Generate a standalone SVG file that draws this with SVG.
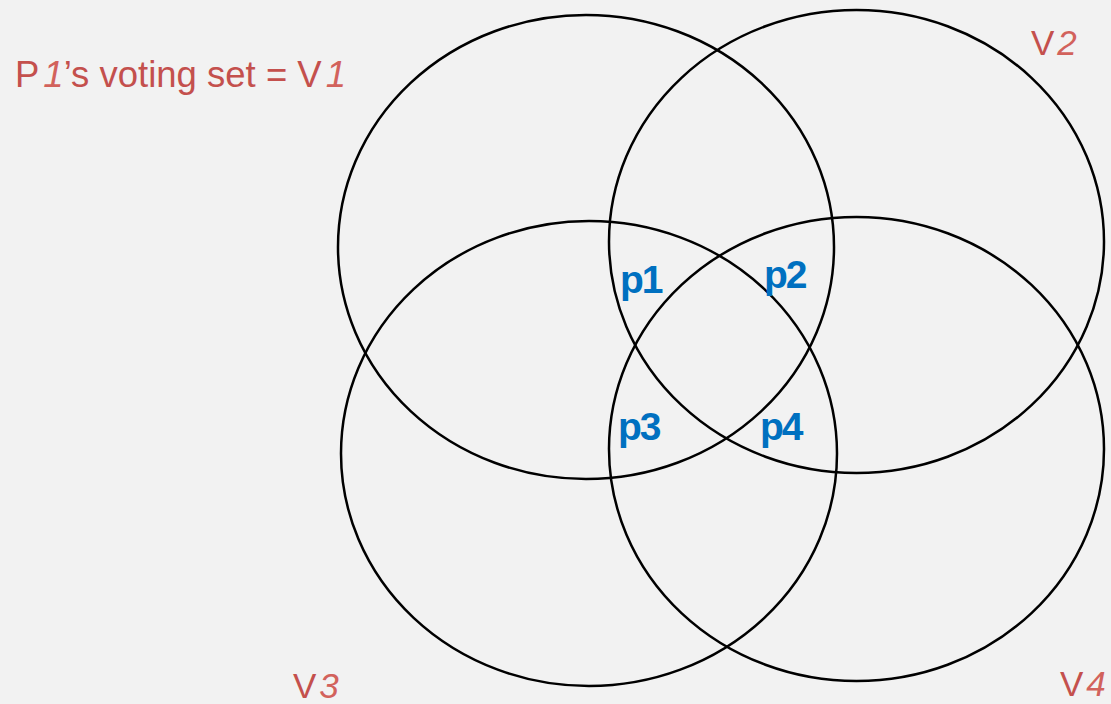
<svg xmlns="http://www.w3.org/2000/svg" width="1111" height="704" viewBox="0 0 1111 704">
<style>
.c{fill:none;stroke:#000;stroke-width:2.5}
.lab{font-family:"Liberation Sans",Arial,sans-serif;fill:#c4504d}
.it{font-style:italic;fill:#d2625c}
.p{font-family:"Liberation Sans",Arial,sans-serif;font-weight:bold;fill:#0070c0;font-size:39px}
</style>
<rect width="1111" height="704" fill="#f2f2f2"/>
<g id="connectors"></g>
<g id="V1"><ellipse class="c" cx="586" cy="247" rx="248" ry="232"/></g>
<g id="V2"><ellipse class="c" cx="856.5" cy="241.5" rx="247.5" ry="231.5"/></g>
<g id="V3"><ellipse class="c" cx="589" cy="453.5" rx="248" ry="232.5"/></g>
<g id="V4"><ellipse class="c" cx="856.5" cy="449" rx="247.5" ry="232"/></g>
<g id="title"><text class="lab" x="15" y="87" font-size="36.5">P<tspan class="it" dx="4">1</tspan>’s voting set = V<tspan class="it" dx="4">1</tspan></text></g>
<g id="labelV2"><text class="lab" x="1031" y="55" font-size="35">V<tspan class="it" dx="3">2</tspan></text></g>
<g id="labelV3"><text class="lab" x="293" y="698" font-size="35">V<tspan class="it" dx="3">3</tspan></text></g>
<g id="labelV4"><text class="lab" x="1060" y="696" font-size="35">V<tspan class="it" dx="3">4</tspan></text></g>
<g id="p1"><text class="p" x="620" y="293" letter-spacing="-2">p1</text></g>
<g id="p2"><text class="p" x="764" y="288" letter-spacing="-2">p2</text></g>
<g id="p3"><text class="p" x="618" y="440" letter-spacing="-2">p3</text></g>
<g id="p4"><text class="p" x="760" y="440" letter-spacing="-2">p4</text></g>
</svg>
